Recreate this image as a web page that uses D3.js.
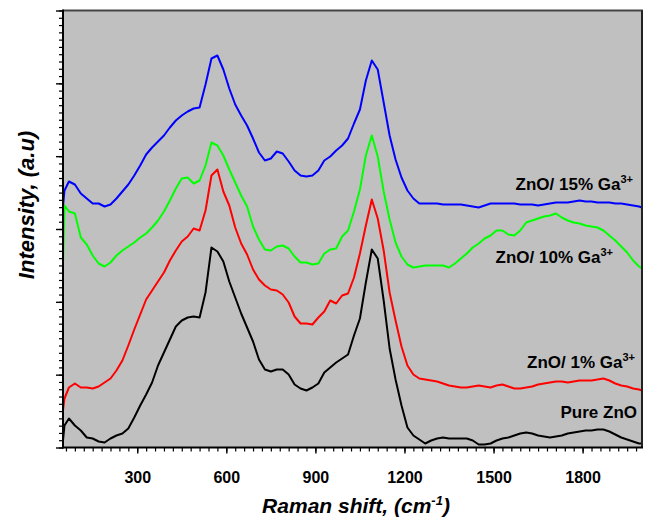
<!DOCTYPE html>
<html><head><meta charset="utf-8">
<script src="https://cdn.jsdelivr.net/npm/d3@7/dist/d3.min.js"></script>
<style>body{margin:0;background:#fff;}svg{display:block;font-family:"Liberation Sans",Arial,sans-serif;}</style>
</head><body><svg id="c" width="656" height="519"></svg>
<script>
const ramanShift = [50,55,70,90,110,130,150,170,190,210,
230,250,270,290,310,330,350,370,390,410,
430,450,470,490,510,530,550,570,590,610,
630,650,670,690,710,730,750,770,790,810,
830,850,870,890,910,930,950,970,990,1010,
1030,1050,1070,1090,1110,1130,1150,1170,1190,1210,
1230,1250,1270,1290,1310,1330,1350,1370,1390,1410,
1430,1450,1470,1490,1510,1530,1550,1570,1590,1610,
1630,1650,1670,1690,1710,1730,1750,1770,1790,1810,
1830,1850,1870,1890,1910,1930,1950,1970,1990,2000];

const pureZnO = [7,22,29,22,17,10,9,6,5,9,
12,14,19,30,42,53,65,82,95,108,
121,127,130,131,130,155,200,196,186,166,
150,134,120,106,88,78,76,78,78,73,
63,59,57,60,64,75,80,85,89,93,
112,129,165,198,189,147,99,68,42,20,
12,8,4,7,9,10,9,9,9,9,
7,3,3,4,7,9,10,12,14,15,
14,12,11,10,11,12,14,15,16,17,
17,18,18,16,13,10,8,6,4,4];

const ga1 = [37,49,60,64,60,60,59,61,65,69,
77,87,102,118,133,148,157,166,175,187,
197,206,211,219,217,237,272,278,256,242,
220,204,193,178,168,162,158,157,153,145,
131,124,124,123,130,136,147,144,152,154,
170,194,222,248,229,197,155,127,101,82,
73,69,68,67,66,64,62,61,60,60,
61,62,61,60,62,63,61,59,59,60,
61,63,64,65,66,66,65,66,67,67,
67,68,69,67,64,62,61,59,58,57];

const ga10 = [184,242,236,234,210,203,192,184,181,185,
192,197,201,205,210,214,220,227,236,247,
259,269,270,264,267,282,305,302,292,278,
265,252,241,221,208,198,197,201,202,199,
191,185,185,183,184,194,198,199,211,217,
236,258,292,312,291,256,228,205,191,183,
180,181,182,182,182,182,180,184,189,194,
200,204,209,212,217,217,213,212,217,225,
227,229,231,232,234,230,227,225,224,222,
221,220,217,212,207,201,195,187,181,179];

const ga15 = [241,257,266,263,254,249,244,244,241,243,
249,256,263,272,282,293,300,306,312,320,
327,332,336,339,340,363,389,392,378,359,
343,332,322,309,295,287,289,296,294,286,
277,272,271,272,277,287,291,297,302,309,
324,338,367,387,378,345,312,288,270,257,
249,244,244,244,244,243,243,243,243,242,
241,240,242,244,244,244,244,244,243,243,
243,242,243,244,245,245,245,246,247,246,
246,245,245,245,244,244,243,242,241,240];

const xTickLabels = [300,600,900,1200,1500,1800];
const seriesNames = ["Pure ZnO","ZnO/ 1% Ga","ZnO/ 10% Ga","ZnO/ 15% Ga"];
const seriesColors = ["#000000","#ff0000","#00ff00","#0000ff"];
const seriesData = [pureZnO, ga1, ga10, ga15];
const seriesSup = ["","3+","3+","3+"];

const svg = d3.select("#c");
const L = 63, R = 642, T = 10.5, B = 447.5;
const x = d3.scaleLinear().domain([50,2000]).range([L,R]);
const y = d3.scaleLinear().domain([0,437]).range([B,T]);

svg.append("rect").attr("x",L).attr("y",T).attr("width",R-L).attr("height",B-T).attr("fill","#c0c0c0");

svg.append("defs").append("clipPath").attr("id","clip").append("rect")
  .attr("x",L).attr("y",T).attr("width",R-L).attr("height",B-T);

const line = d3.line().x((d,i)=>x(ramanShift[i])).y(d=>y(d));
const g = svg.append("g").attr("clip-path","url(#clip)");
seriesData.forEach((s,k)=>{
  g.append("path").datum(s).attr("d",line).attr("fill","none")
   .attr("stroke",seriesColors[k]).attr("stroke-width",2).attr("stroke-linejoin","round");
});

// frame top/right
svg.append("line").attr("x1",L).attr("x2",R+1).attr("y1",T).attr("y2",T).attr("stroke","#444").attr("stroke-width",2);
svg.append("line").attr("x1",R).attr("x2",R).attr("y1",T).attr("y2",B).attr("stroke","#222").attr("stroke-width",2);

// x axis
const xMinor = d3.range(60,2000,30);
svg.append("g").attr("transform",`translate(0,${B})`)
  .call(d3.axisBottom(x).tickValues(xMinor).tickSize(4).tickFormat(""))
  .call(a=>{a.select(".domain").remove(); a.selectAll("line").attr("stroke","#000").attr("stroke-width",1.2);});
const xa = svg.append("g").attr("transform",`translate(0,${B})`)
  .call(d3.axisBottom(x).tickValues(xTickLabels).tickSize(6).tickPadding(18).tickFormat(d3.format("d")));
xa.select(".domain").remove();
xa.selectAll("line").attr("stroke","#000").attr("stroke-width",1.4);
xa.selectAll("text").attr("font-size",16).attr("font-weight","bold").attr("fill","#000").attr("font-family","'Liberation Sans',Arial,sans-serif");
svg.append("line").attr("x1",L-1).attr("x2",R+1).attr("y1",B).attr("y2",B).attr("stroke","#000").attr("stroke-width",2);

// y axis
const yStep = 437/60;
const yMinor = d3.range(0,61).map(i=>i*yStep);
const yMajor = d3.range(0,7).map(i=>i*yStep*10);
svg.append("g").attr("transform",`translate(${L},0)`)
  .call(d3.axisLeft(y).tickValues(yMinor).tickSize(4).tickFormat(""))
  .call(a=>{a.select(".domain").remove(); a.selectAll("line").attr("stroke","#000").attr("stroke-width",1.2);});
svg.append("g").attr("transform",`translate(${L},0)`)
  .call(d3.axisLeft(y).tickValues(yMajor).tickSize(7).tickFormat(""))
  .call(a=>{a.select(".domain").remove(); a.selectAll("line").attr("stroke","#000").attr("stroke-width",1.4);});
svg.append("line").attr("x1",L).attr("x2",L).attr("y1",T-1).attr("y2",B+1).attr("stroke","#000").attr("stroke-width",2);

// titles
const xt = svg.append("text").attr("x",356).attr("y",513).attr("text-anchor","middle")
  .attr("font-size",21).attr("font-weight","bold").attr("font-style","italic");
xt.append("tspan").text("Raman shift, (cm");
xt.append("tspan").text("-1").attr("font-size",13).attr("dy",-8);
xt.append("tspan").text(")").attr("dy",8);

svg.append("text").attr("transform",`translate(34,205) rotate(-90)`).attr("text-anchor","middle")
  .attr("font-size",22).attr("font-weight","bold").attr("font-style","italic").text("Intensity, (a.u)");

// series labels
const labelPos = [[637,418],[635,368],[613,263],[633,190]];
seriesNames.forEach((n,k)=>{
  const t = svg.append("text").attr("x",labelPos[k][0]).attr("y",labelPos[k][1]).attr("text-anchor","end")
    .attr("font-size",17).attr("font-weight","bold").attr("fill","#000");
  t.append("tspan").text(n);
  if(seriesSup[k]) t.append("tspan").text(seriesSup[k]).attr("font-size",11).attr("dy",-7);
});
</script></body></html>
